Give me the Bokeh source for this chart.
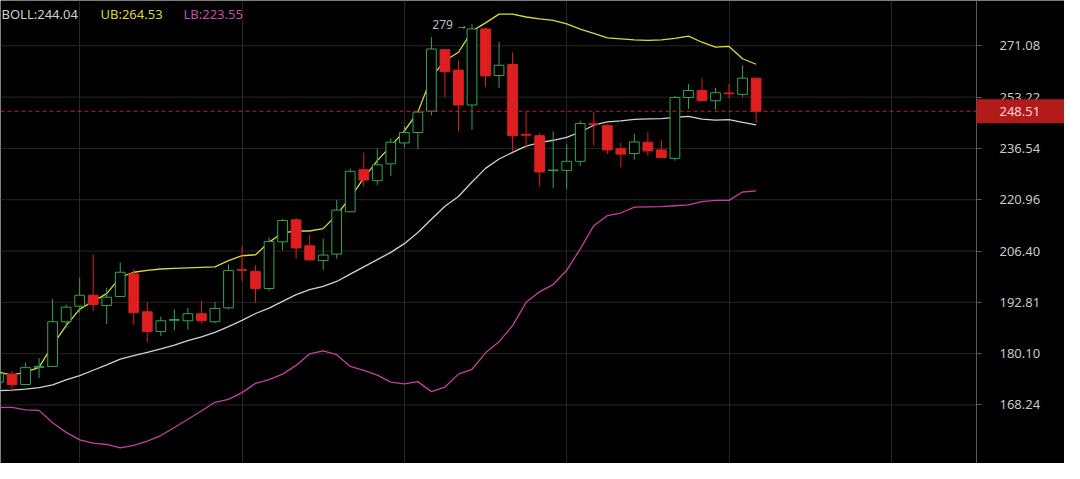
from bokeh.plotting import figure
from bokeh.models import Range1d, FixedTicker, PrintfTickFormatter, Label, ColumnDataSource
from bokeh.core.properties import value
from bokeh.embed import file_html
from bokeh.resources import INLINE

# ---- data ----
opens = [173.40, 175.27, 172.86, 176.85, 177.08, 187.90, 191.82, 194.63, 191.99, 194.30,
         200.23, 190.41, 185.49, 188.26, 188.14, 189.92, 187.90, 191.40, 201.35, 200.85,
         196.38, 208.93, 215.13, 207.85, 203.80, 205.56, 217.45, 229.96, 226.62, 231.75,
         238.28, 241.60, 248.55, 269.69, 262.48, 250.58, 277.23, 260.60, 264.41, 240.98,
         240.58, 229.64, 229.75, 232.53, 244.42, 243.79, 236.45, 234.94, 238.50, 236.06,
         233.43, 253.08, 255.47, 252.01, 254.61, 254.16, 259.69]
highs = [176.40, 176.01, 177.93, 179.07, 193.62, 192.24, 199.19, 205.46, 196.56, 203.27,
         201.51, 192.81, 189.18, 191.00, 191.40, 193.23, 192.89, 202.82, 207.69, 202.56,
         210.20, 215.41, 215.69, 210.83, 209.85, 220.83, 230.25, 235.24, 236.45, 239.74,
         243.70, 248.78, 274.25, 269.80, 265.88, 279.00, 277.80, 272.49, 268.78, 248.23,
         241.38, 241.92, 237.90, 245.37, 248.23, 244.33, 238.28, 241.19, 241.60, 239.12,
         253.63, 257.69, 259.69, 256.36, 257.69, 264.18, 259.69]
lows = [172.80, 171.24, 172.70, 174.36, 176.90, 186.51, 190.16, 190.58, 187.34, 194.10,
        187.09, 182.95, 184.36, 185.73, 185.97, 187.48, 187.48, 191.00, 198.28, 192.64,
        195.74, 206.63, 204.31, 203.90, 201.27, 204.31, 217.30, 224.86, 225.36, 227.99,
        236.76, 236.27, 247.19, 253.31, 241.92, 242.45, 256.59, 256.36, 235.46, 236.76,
        224.86, 224.40, 224.20, 231.03, 237.49, 234.76, 230.73, 233.04, 234.24, 233.60,
        232.74, 249.29, 251.90, 248.97, 252.85, 253.31, 244.74]
closes = [175.42, 172.86, 176.78, 177.08, 187.90, 191.57, 194.63, 192.24, 194.12, 200.67,
          190.16, 185.49, 188.14, 188.46, 189.92, 188.14, 191.25, 201.11, 201.19, 196.38,
          209.04, 214.94, 207.24, 203.98, 205.30, 217.93, 229.46, 226.82, 231.44, 238.50,
          241.60, 248.23, 269.93, 261.94, 250.58, 277.23, 260.46, 264.18, 240.58, 240.73,
          229.26, 229.87, 232.53, 244.52, 244.23, 236.06, 234.76, 238.59, 235.76, 233.73,
          253.08, 255.47, 252.01, 254.71, 254.38, 259.69, 248.51]
boll_mid = [171.47, 171.58, 171.80, 172.14, 172.80, 173.92, 174.93, 176.17, 177.42, 178.81,
            179.62, 180.42, 181.23, 182.17, 183.23, 184.18, 185.25, 186.69, 188.26, 189.97,
            191.32, 193.06, 194.81, 196.07, 196.95, 198.23, 200.15, 202.09, 204.06, 206.04,
            208.44, 211.56, 215.28, 219.05, 221.90, 226.24, 230.35, 233.25, 235.31, 237.28,
            238.35, 239.12, 240.05, 241.76, 243.95, 245.06, 245.37, 245.85, 246.01, 246.10,
            246.48, 246.86, 245.91, 245.59, 245.78, 244.90, 244.04]
boll_up = [175.72, 175.04, 175.72, 176.85, 182.17, 186.93, 191.07, 193.06, 195.06, 199.37,
           200.67, 201.19, 201.53, 201.71, 201.84, 201.97, 202.10, 203.80, 205.12, 205.38,
           208.85, 211.43, 211.97, 211.97, 212.65, 216.53, 221.61, 227.40, 232.74, 237.28,
           242.08, 248.23, 260.02, 265.78, 268.78, 276.44, 279.47, 282.74, 282.74, 281.66,
           280.93, 280.39, 279.12, 277.16, 275.56, 273.96, 273.61, 273.26, 273.08, 273.26,
           273.78, 274.60, 272.38, 270.63, 270.87, 266.47, 264.53]
boll_low = [167.68, 167.68, 167.16, 167.03, 164.32, 162.22, 160.62, 159.94, 159.63, 158.91,
            159.42, 160.35, 161.54, 163.27, 165.07, 166.88, 168.84, 169.49, 171.02, 173.13,
            173.98, 175.27, 177.31, 180.07, 180.77, 179.84, 177.08, 176.17, 175.04, 173.40,
            173.02, 173.53, 171.24, 172.28, 175.27, 176.40, 180.30, 182.99, 186.93, 192.81,
            195.56, 197.41, 201.19, 206.97, 213.48, 216.33, 217.09, 218.78, 218.87, 218.92,
            219.20, 219.43, 220.40, 220.77, 220.77, 223.24, 223.55]
price_ticks = [168.24, 180.10, 192.81, 206.40, 220.96, 236.54, 253.22, 271.08]
last_price = 248.51
peak_text = "279 \u2192"
legend_texts = ["BOLL:244.04", "UB:264.53", "LB:223.55"]

GREEN = "#36a452"
RED = "#de1f1f"

X0, AXIS_X, X1 = 0.149, 72.29, 78.795   # view start, price-axis position, view end

idx = list(range(len(opens)))
body_top = [max(o, c) for o, c in zip(opens, closes)]
body_bot = [min(o, c) for o, c in zip(opens, closes)]
up = [c >= o for o, c in zip(opens, closes)]
colors = [GREEN if u else RED for u in up]
fills = ["#000000" if u else RED for u in up]

src = ColumnDataSource(dict(x=idx, high=highs, low=lows, top=body_top, bot=body_bot,
                            color=colors, fill=fills))

p = figure(width=1064, height=463, y_axis_type="log", y_axis_location="right",
           x_range=Range1d(X0, X1), y_range=Range1d(155.65, 287.9),
           output_backend="svg", toolbar_location=None,
           background_fill_color="#000000", border_fill_color="#000000",
           min_border_left=0, min_border_top=0, min_border_bottom=0, min_border_right=0)
p.outline_line_color = None

# vertical grid
p.xgrid.grid_line_color = "#262626"
p.xgrid.ticker = FixedTicker(ticks=[6, 18, 30, 42, 54, 66])
p.ygrid.visible = False
# horizontal grid lines stop at the price axis
n = len(price_ticks)
p.segment(x0=[X0] * n, x1=[AXIS_X] * n, y0=price_ticks, y1=price_ticks,
          line_color="#262626", line_width=1, level="underlay")

# x axis: only a faint base line
p.xaxis.ticker = FixedTicker(ticks=[])
p.xaxis.major_tick_line_color = None
p.xaxis.minor_tick_line_color = None
p.xaxis.major_label_text_font_size = "0px"
p.xaxis.major_label_standoff = 0
p.xaxis.axis_line_color = "#3c3c3c"

# y axis, drawn inside the frame at the price-axis position
p.yaxis.fixed_location = AXIS_X
p.yaxis.ticker = FixedTicker(ticks=price_ticks)
p.yaxis.formatter = PrintfTickFormatter(format="%.2f")
p.yaxis.major_label_text_color = "#c8c8c8"
p.yaxis.major_label_text_font = "Noto Sans"
p.yaxis.major_label_text_font_size = "13px"
p.yaxis.axis_line_color = "#5a5a5a"
p.yaxis.major_tick_line_color = "#5a5a5a"
p.yaxis.major_tick_out = 5
p.yaxis.major_tick_in = 0
p.yaxis.minor_tick_line_color = None
p.yaxis.major_label_standoff = 18

# bands
p.line(idx, boll_low, line_color="#c4409f", line_width=1.3)
p.line(idx, boll_mid, line_color="#d2d2d2", line_width=1.3)
p.line(idx, boll_up, line_color="#dada3a", line_width=1.3)

# candles
p.segment(x0="x", y0="high", x1="x", y1="top", line_color="color", line_width=1, source=src)
p.segment(x0="x", y0="bot", x1="x", y1="low", line_color="color", line_width=1, source=src)
p.vbar(x="x", top="top", bottom="bot", width=0.72, fill_color="fill", line_color="color",
       line_width=1, source=src)

# current price line and tag (tag box spans from the axis line to the right edge)
p.segment(x0=[X0], x1=[AXIS_X], y0=[last_price], y1=[last_price], line_color="#c62424",
          line_dash="4 3", line_width=1)
p.rect(x=[X1], y=[last_price], width=176, height=24, width_units="screen",
       height_units="screen", fill_color="#b31b1b", line_color=None, level="overlay")
p.text(x=[AXIS_X], y=[last_price], text=["%.2f" % last_price], x_offset=23,
       text_color="#f3dcdc", text_font=value("Noto Sans"), text_font_size="13px",
       text_align="left", text_baseline="middle", level="overlay")

# peak annotation
p.add_layout(Label(x=35, y=279.0, text=peak_text, text_align="right", text_baseline="middle",
                   x_offset=-4, text_color="#bdbdbd", text_font="Noto Sans",
                   text_font_size="12px"))

# legend texts
leg_colors = ["#cfcfcf", "#d8d83a", "#c44ea8"]
leg_x = [1, 100, 183]
for t, c, xx in zip(legend_texts, leg_colors, leg_x):
    p.add_layout(Label(x=xx, y=282.9, x_units="screen", y_units="data", text=t,
                       text_color=c, text_font="Noto Sans", text_font_size="13px",
                       text_align="left", text_baseline="middle"))

open("out.html", "w").write(file_html(p, INLINE))
